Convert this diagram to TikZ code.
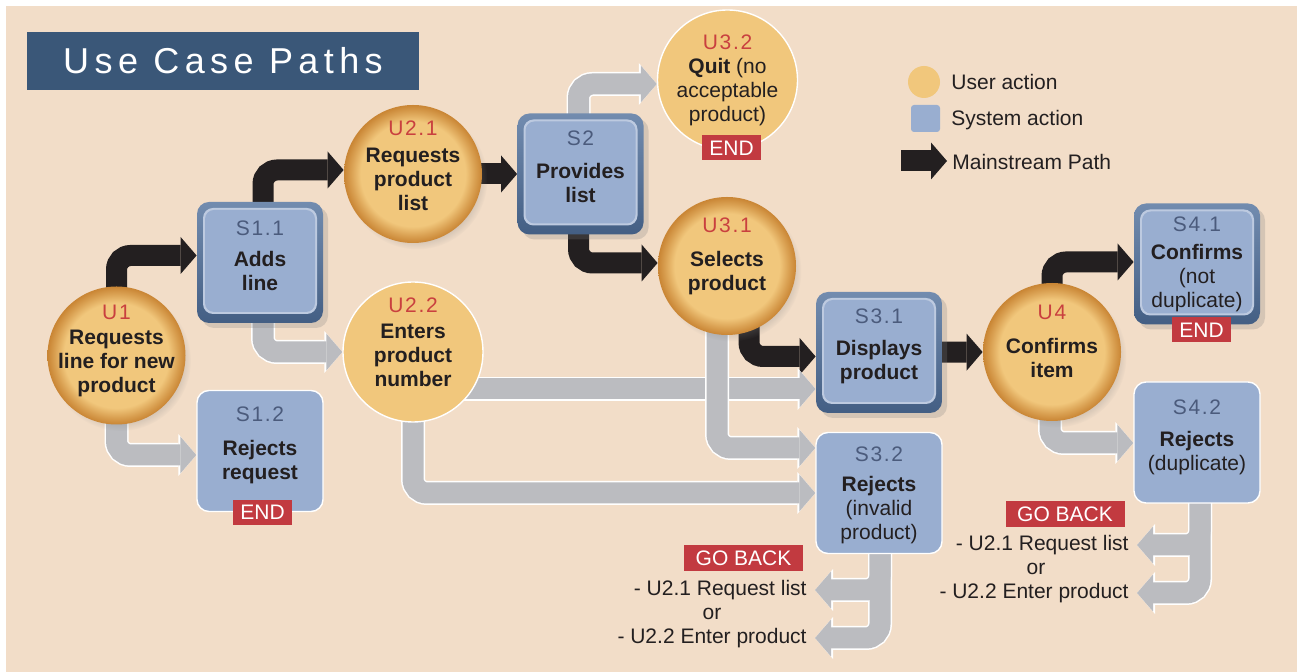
\documentclass[tikz,border=0pt]{standalone}
\usepackage{fontspec}
\setmainfont{Liberation Sans}
\newfontfamily\titlefont[LetterSpace=15]{Liberation Sans}
\newfontfamily\idfont[LetterSpace=8]{Liberation Sans}
\usepackage{xcolor}
\usetikzlibrary{arrows.meta,positioning,calc,shadows}

\definecolor{peach}{HTML}{F2DDC8}
\definecolor{titleblue}{HTML}{3A5778}
\definecolor{userfill}{HTML}{F1C77C}
\definecolor{userrim}{HTML}{C98534}
\colorlet{userrimlight}{userrim!60!userfill}
\definecolor{sysfill}{HTML}{99AED0}
\definecolor{sysrim}{HTML}{4F6F9B}
\definecolor{idblue}{HTML}{4B5B7C}
\definecolor{idred}{HTML}{C9403F}
\definecolor{endred}{HTML}{C23A40}
\definecolor{pathgray}{HTML}{BBBCC0}
\definecolor{ink}{HTML}{231F20}

\newcommand{\bodyfont}{\fontsize{10.5}{12}\selectfont}
\newcommand{\uid}[1]{{\idfont\mdseries\color{idred}#1}}
\newcommand{\sid}[1]{{\idfont\mdseries\color{idblue}#1}}

\pgfdeclarelayer{bg}
\pgfsetlayers{bg,main}
\pgfdeclareradialshading{userball}{\pgfpointorigin}{color(0bp)=(userfill); color(19bp)=(userfill); color(22.5bp)=(userrimlight); color(25bp)=(userrim); color(50bp)=(userrim)}

\begin{document}
\begin{tikzpicture}[
  x=0.5pt, y=-0.5pt,
  userbtn/.style={circle, minimum size=69pt, inner sep=-8pt, shade, shading=userball, text=ink, align=center, font=\bodyfont\bfseries,
    circular drop shadow={shadow scale=1.02, shadow xshift=2pt, shadow yshift=-2.5pt, opacity=0.3}},
  userflat/.style={circle, minimum size=70pt, inner sep=-8pt, fill=userfill, draw=white, line width=0.7pt, text=ink, align=center, font=\bodyfont\bfseries},
  sysbtn/.style={rectangle, rounded corners=6pt, minimum width=63pt, minimum height=60.5pt, inner sep=0pt, top color=sysrim!80!white, bottom color=sysrim!85!black,
    text=ink, align=center, font=\bodyfont\bfseries,
    drop shadow={shadow xshift=2.5pt, shadow yshift=-2.5pt, opacity=0.25},
    path picture={
      \fill[sysfill!65!white, rounded corners=5pt] ([shift={(3pt,-3pt)}]path picture bounding box.north west) rectangle ([shift={(-3pt,4.5pt)}]path picture bounding box.south east);
      \fill[sysfill, rounded corners=4.5pt] ([shift={(4pt,-4pt)}]path picture bounding box.north west) rectangle ([shift={(-4pt,5.5pt)}]path picture bounding box.south east);
    }},
  sysflat/.style={rectangle, rounded corners=6pt, minimum width=63pt, minimum height=60.5pt, inner sep=0pt, fill=sysfill, draw=white, line width=0.7pt, text=ink, align=center, font=\bodyfont\bfseries},
  endtag/.style={fill=endred, text=white, font=\bodyfont, minimum width=29.5pt, minimum height=12.5pt, inner sep=0pt},
  gobacktag/.style={endtag, minimum width=59.5pt, minimum height=13pt},
  backtxt/.style={font=\bodyfont, text=ink, inner xsep=4pt, inner ysep=1pt},
  legtxt/.style={anchor=west, inner sep=0pt, font=\bodyfont, text=ink},
  mainpath/.style={draw=ink, line width=10.5pt, rounded corners=7pt, -{Triangle[length=8pt, width=18.5pt, line width=0pt]}},
  altedge/.style={draw=white, line width=12pt, rounded corners=7pt, -{Triangle[length=9pt, width=21pt, line width=0pt]}},
  altbody/.style={draw=pathgray, line width=10.5pt, rounded corners=7pt, -{Triangle[length=8pt, width=18.5pt, line width=0pt]}},
  altpath/.style={altbody, preaction={altedge}}
]
  \useasboundingbox (0,0) rectangle (1301,672);
  \begin{pgfonlayer}{bg}
    \fill[peach] (6,6) rectangle (1297,672);
  \end{pgfonlayer}

  % title
  \node[fill=titleblue, text=white, minimum width=196pt, minimum height=29pt, inner sep=0pt, font=\titlefont\fontsize{18}{20}\selectfont] (title) at (223,61) {Use Case Paths};

  % legend
  \node[circle, fill=userfill, minimum size=16pt, inner sep=0pt] (legU) at (924,82) {};
  \node[rectangle, rounded corners=1.5pt, fill=sysfill, minimum width=14.5pt, minimum height=13.5pt, inner sep=0pt] (legS) at (925.5,118.5) {};
  \coordinate (legA) at (901,161);
  \coordinate (legB) at (947,161);
  \draw[mainpath] (legA) -- (legB);
  \node[legtxt] (legUtxt) at (951,82) {User action};
  \node[legtxt] (legStxt) at (951,120) {System action};
  \node[legtxt] (legMtxt) at (952,162) {Mainstream Path};

  % user and system actions
  \node[userbtn, text depth=7.1pt] (U1) at (116.5,355.5) {\uid{U1}\\[0.5pt]Requests\\line for new\\product};
  \node[sysbtn, text depth=7.1pt] (S11) at (260,262.5) {\sid{S1.1}\\[3.5pt]Adds\\line};
  \node[sysflat, text depth=8.1pt] (S12) at (260,451) {\sid{S1.2}\\[5pt]Rejects\\request};
  \node[userbtn, text depth=8.6pt] (U21) at (413,174) {\uid{U2.1}\\[1.5pt]Requests\\product\\list};
  \node[userflat, text depth=10.1pt] (U22) at (413,352) {\uid{U2.2}\\[1pt]Enters\\product\\number};
  \node[sysbtn, text depth=7.6pt] (S2) at (580.5,174) {\sid{S2}\\[4.5pt]Provides\\list};
  \node[userflat, font=\bodyfont, text depth=1.6pt] (U32) at (727.5,80) {\uid{U3.2}\\\textbf{Quit} (no\\acceptable\\product)};
  \node[userbtn, text depth=11.6pt] (U31) at (727,266) {\uid{U3.1}\\[5pt]Selects\\product};
  \node[sysbtn, text depth=8.6pt] (S31) at (879,352.5) {\sid{S3.1}\\[4pt]Displays\\product};
  \node[sysflat, font=\bodyfont, text depth=-3.9pt] (S32) at (879,493) {\sid{S3.2}\\[3pt]\textbf{Rejects}\\(invalid\\product)};
  \node[userbtn, text depth=10.6pt] (U4) at (1052,352) {\uid{U4}\\[5pt]Confirms\\item};
  \node[sysbtn, font=\bodyfont, text depth=1.6pt] (S41) at (1197,264) {\sid{S4.1}\\[2pt]\textbf{Confirms}\\(not\\duplicate)};
  \node[sysflat, font=\bodyfont, text depth=7.6pt] (S42) at (1197,442.5) {\sid{S4.2}\\[4pt]\textbf{Rejects}\\(duplicate)};

  % end tags
  \node[endtag] (end12) at (262.5,512.5) {END};
  \node[endtag] (end32) at (731.5,148) {END};
  \node[endtag] (end41) at (1201.5,330) {END};

  % go back notes
  \node[gobacktag] (goback3) at (743.5,558) {GO BACK};
  \node[backtxt, anchor=east] (back3a) at (815,590) {- U2.1 Request list};
  \node[backtxt] (back3or) at (712,614) {or};
  \node[backtxt, anchor=east] (back3b) at (815,638) {- U2.2 Enter product};
  \node[gobacktag] (goback4) at (1065,514) {GO BACK};
  \node[backtxt, anchor=east] (back4a) at (1137,545) {- U2.1 Request list};
  \node[backtxt] (back4or) at (1036,569) {or};
  \node[backtxt, anchor=east] (back4b) at (1137,593) {- U2.2 Enter product};

  \begin{pgfonlayer}{bg}
    % mainstream path
    \draw[mainpath] (U1.center) |- ($(S11.west)+(0,-7)$);
    \draw[mainpath] ($(S11.center)+(3,0)$) |- ($(U21.west)+(0,-4)$);
    \draw[mainpath] (U21.center) -- (S2.west);
    \draw[mainpath] ($(S2.center)+(-2,0)$) |- ($(U31.west)+(0,-3)$);
    \draw[mainpath] ($(U31.center)+(22,0)$) |- ($(S31.west)+(0,4)$);
    \draw[mainpath] (S31.center) -- (U4.west);
    \draw[mainpath] (U4.center) |- ($(S41.west)+(0,-2)$);

    % other paths
    \draw[altpath] (U1.center) |- ($(S12.west)+(0,4)$);
    \draw[altpath] ($(S11.center)+(3,0)$) |- (U22.west);
    \draw[altpath] ($(S2.center)+(-2,0)$) |- ($(U32.west)+(0,4)$);
    \draw[altpath] ($(U22.center)+(0,37)$) -- ($(S31.west)+(0,36.5)$);
    \draw[altpath] (U22.center) |- (S32.west);
    \draw[altpath] ($(U31.center)+(-10,0)$) |- ($(S32.west)+(0,-45)$);
    \draw[altpath] ($(U4.center)+(-2,0)$) |- ($(S42.west)+(0,0.5)$);

    % go back paths
    \draw[altedge] ($(S32.center)+(1,0)$) |- (back3a.east);
    \draw[altedge] ($(S32.center)+(1,0)$) |- (back3b.east);
    \draw[altbody] ($(S32.center)+(1,0)$) |- (back3a.east);
    \draw[altbody] ($(S32.center)+(1,0)$) |- (back3b.east);
    \draw[altedge] ($(S42.center)+(3,0)$) |- (back4a.east);
    \draw[altedge] ($(S42.center)+(3,0)$) |- (back4b.east);
    \draw[altbody] ($(S42.center)+(3,0)$) |- (back4a.east);
    \draw[altbody] ($(S42.center)+(3,0)$) |- (back4b.east);
  \end{pgfonlayer}
\end{tikzpicture}
\end{document}
